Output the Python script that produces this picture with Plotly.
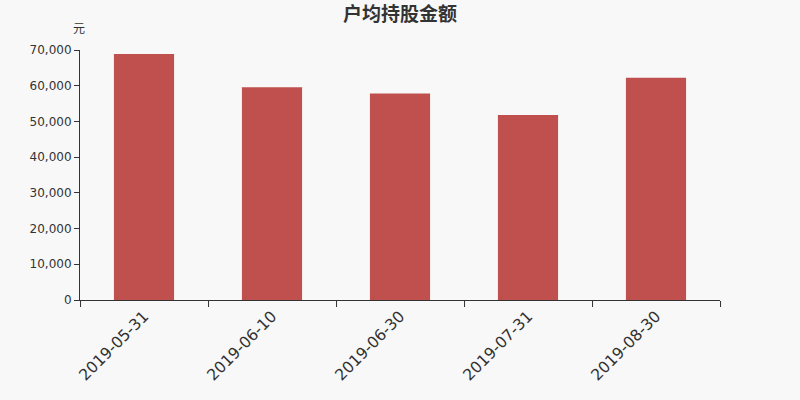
import plotly.graph_objects as go

categories = ["2019-05-31", "2019-06-10", "2019-06-30", "2019-07-31", "2019-08-30"]
values = [68900, 59600, 57800, 51800, 62200]
y_ticks = [0, 10000, 20000, 30000, 40000, 50000, 60000, 70000]

BG = "#f8f8f8"

fig = go.Figure(go.Bar(x=categories, y=values, marker=dict(color="#c0504d", line=dict(width=0))))

fig.update_layout(
    width=800, height=400,
    paper_bgcolor=BG, plot_bgcolor=BG,
    margin=dict(l=80, r=80, t=50, b=100),
    bargap=0.53,
    showlegend=False,
    font=dict(family="DejaVu Sans, Noto Sans CJK SC", color="#333333"),
    title=dict(text="<b>户均持股金额</b>", x=0.5, xanchor="center", y=0.965, yanchor="middle",
               font=dict(size=19, family="Noto Sans CJK SC, DejaVu Sans", color="#333333")),
    annotations=[dict(text="元", xref="paper", yref="paper", x=-0.002, y=1.09, xanchor="center",
                      yanchor="middle", showarrow=False,
                      font=dict(size=12, family="Noto Sans CJK SC", color="#333333"))],
)

fig.update_xaxes(
    type="category", tickangle=-45, tickson="boundaries", ticks="outside", ticklen=6,
    tickcolor="#333333", showline=True, linecolor="#333333", linewidth=1,
    showgrid=False, tickfont=dict(size=15.6, color="#333333"),
)
fig.update_yaxes(
    range=[0, 70000], tickvals=y_ticks, tickformat=",d", ticks="outside", ticklen=5,
    tickcolor="#333333", showline=True, linecolor="#333333", linewidth=1,
    showgrid=False, zeroline=False, tickfont=dict(size=12, color="#333333"),
)

fig.write_html(
    "out.html",
    config={"displayModeBar": False},
    post_script="document.body.style.margin='0';document.body.style.padding='0';"
                "document.body.style.background='" + BG + "';",
)
